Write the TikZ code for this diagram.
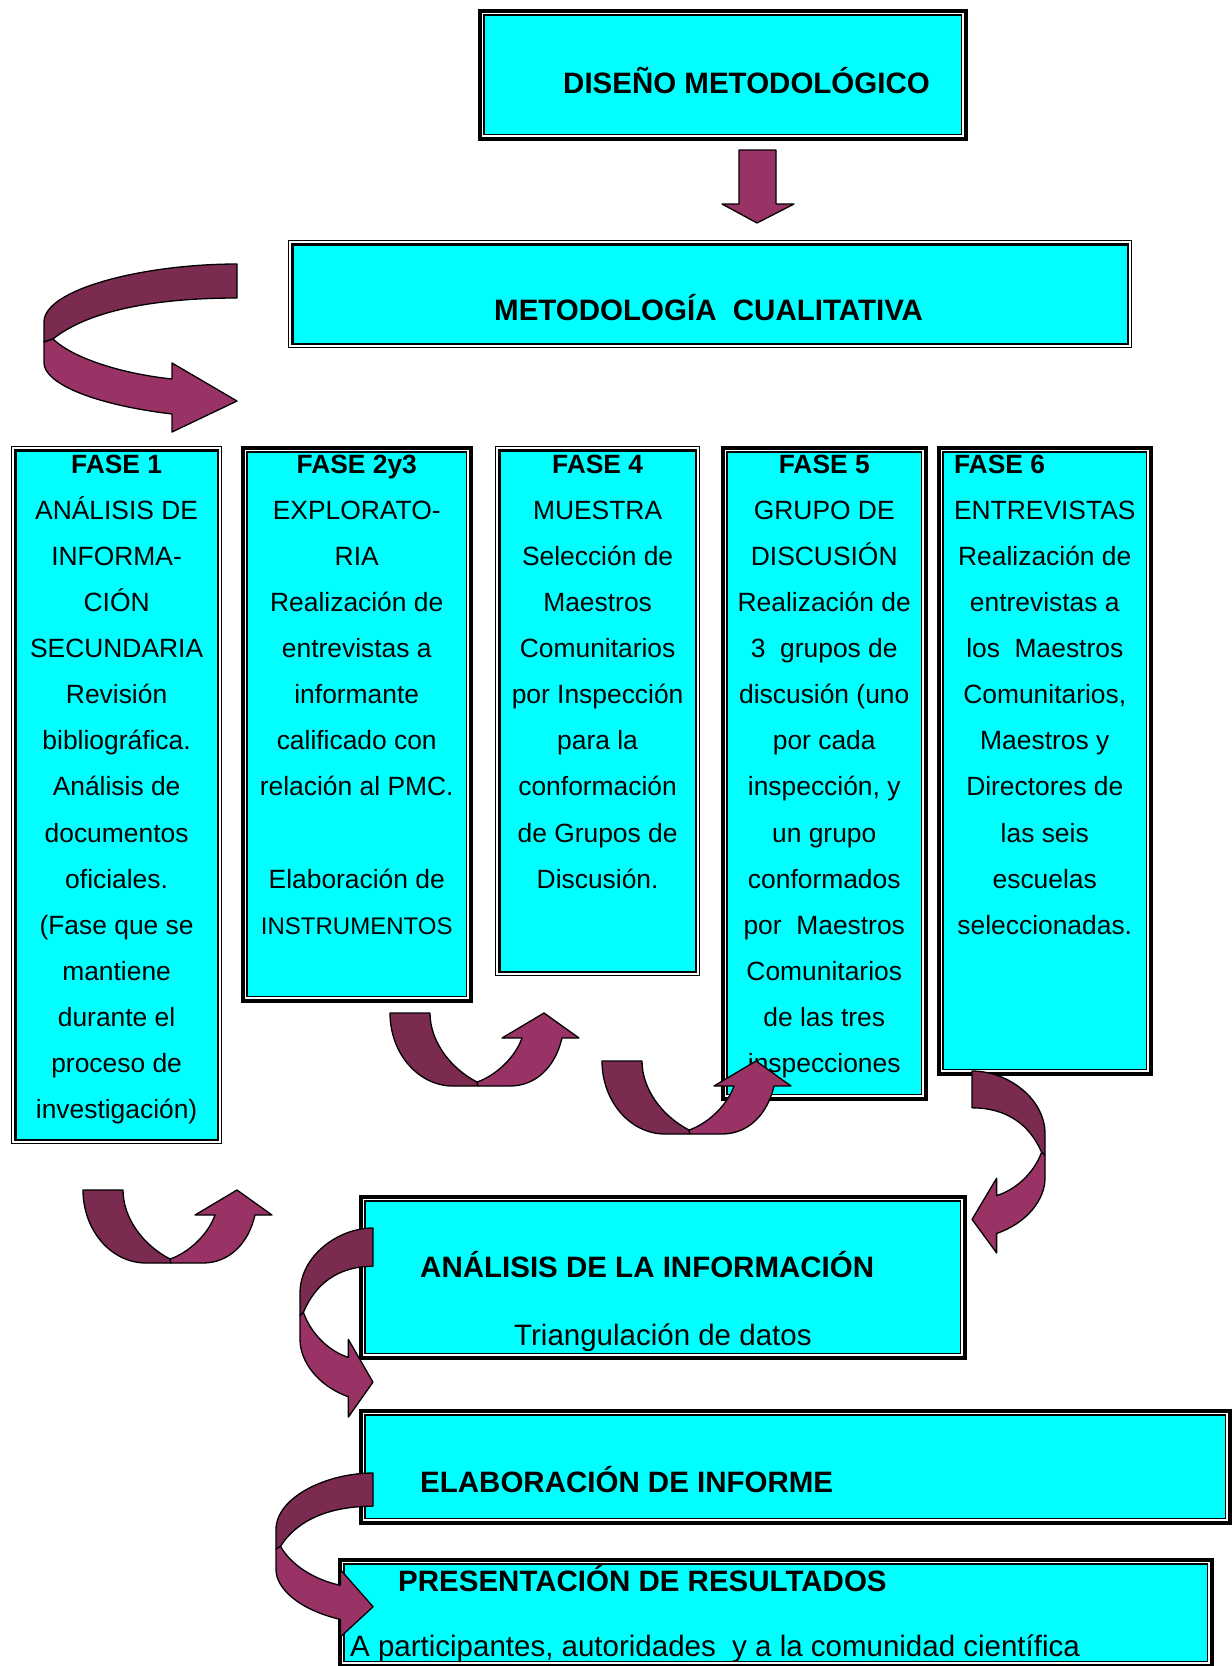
\documentclass[tikz,border=0pt]{standalone}
\usepackage{fontspec}
\setmainfont{Liberation Sans}
\definecolor{boxcyan}{RGB}{0,255,255}
\definecolor{arrowdark}{RGB}{123,42,80}
\definecolor{arrowlight}{RGB}{153,51,102}

\begin{document}
\begin{tikzpicture}[
  x=1pt,
  y=-1pt,
  % double frames: thick outside / thin inside, and the other way round
  thickthin/.style={draw=black,line width=3.5pt,fill=white,anchor=north west,inner sep=0pt,
    path picture={\filldraw[fill=boxcyan,line width=1.2pt]
      ([shift={(4.2pt,-4.2pt)}]path picture bounding box.north west) rectangle
      ([shift={(-4.2pt,4.2pt)}]path picture bounding box.south east);}},
  thinthick/.style={draw=black,line width=1.2pt,fill=white,anchor=north west,inner sep=0pt,
    path picture={\filldraw[fill=boxcyan,line width=2.6pt]
      ([shift={(3.8pt,-3.8pt)}]path picture bounding box.north west) rectangle
      ([shift={(-3.8pt,3.8pt)}]path picture bounding box.south east);}},
  headtxt/.style={anchor=base west,inner sep=0pt,font=\fontsize{29.5}{35}\selectfont\bfseries},
  subtxt/.style={anchor=base west,inner sep=0pt,font=\fontsize{29.5}{35}\selectfont},
  fasetxt/.style={anchor=north,align=center,inner sep=0pt,font=\fontsize{26.4}{46.05}\selectfont},
  arrowshape/.style={draw=black,line width=1.3pt,line join=round},
  % curved block arrow that turns back upwards (U turn)
  uarrow/.pic={
    \filldraw[arrowshape,fill=arrowdark] (0,0) .. controls (0,40) and (28,73) .. (63,73)
      -- (88,73) -- (87,69) .. controls (60,55) and (40,28) .. (40,0) -- cycle;
    \filldraw[arrowshape,fill=arrowlight] (87,69) .. controls (105,63) and (125,45) .. (132,25)
      -- (112,25) -- (154,0) -- (189,25) -- (172,25)
      .. controls (165,55) and (145,73) .. (120,73) -- (88,73) -- cycle;
  },
  % curved block arrow that turns back to the right
  rarrow/.pic={
    \filldraw[arrowshape,fill=arrowdark] (193,0) .. controls (100,0) and (0,25) .. (0,58)
      -- (0,78) -- (9,75) .. controls (40,50) and (100,34) .. (193,34) -- cycle;
    \filldraw[arrowshape,fill=arrowlight] (9,75) .. controls (30,95) and (80,110) .. (128,115)
      -- (128,99) -- (193,137) -- (128,168) -- (128,150)
      .. controls (45,140) and (0,118) .. (0,99) -- (0,78) -- cycle;
  }
]
\useasboundingbox (0,0) rectangle (1232,1666);

% =====================================================================
% Top: design and methodology
% =====================================================================
\node[thickthin,minimum width=486,minimum height=128] (dis) at (478,9) {};
\node[headtxt] (distxt) at (563,93) {DISEÑO METODOLÓGICO};

\filldraw[arrowshape,fill=arrowlight] (739,150) -- (776,150) -- (776,204) -- (794,204)
  -- (757,223) -- (722,204) -- (739,204) -- cycle;

\node[thinthick,minimum width=843,minimum height=107] (met) at (288,240) {};
\node[headtxt] (mettxt) at (494,320) {METODOLOGÍA\ \ CUALITATIVA};

% =====================================================================
% Phases
% =====================================================================
\node[thinthick,minimum width=210,minimum height=697] (f1) at (11,446) {};
\node[thickthin,minimum width=228,minimum height=553] (f23) at (241,446) {};
\node[thinthick,minimum width=204,minimum height=529] (f4) at (495,446) {};
\node[thickthin,minimum width=203,minimum height=651] (f5) at (721,446) {};
\node[thickthin,minimum width=212,minimum height=626] (f6) at (937,446) {};

\node[fasetxt] (f1txt) at ([yshift=-9pt]f1.north)
  {{\bfseries FASE 1}\\ ANÁLISIS DE\\ INFORMA-\\ CIÓN\\ SECUNDARIA\\ Revisión\\
   bibliográfica.\\ Análisis de\\ documentos\\ oficiales.\\ (Fase que se\\ mantiene\\
   durante el\\ proceso de\\ investigación)};
\node[fasetxt] (f23txt) at ([yshift=-9pt]f23.north)
  {{\bfseries FASE 2y3}\\ EXPLORATO-\\ RIA\\ Realización de\\ entrevistas a\\ informante\\
   calificado con\\ relación al PMC.\\[46pt] Elaboración de\\
   {\fontsize{24}{44.6}\selectfont INSTRUMENTOS}};
\node[fasetxt] (f4txt) at ([yshift=-9pt]f4.north)
  {{\bfseries FASE 4}\\ MUESTRA\\ Selección de\\ Maestros\\ Comunitarios\\ por Inspección\\
   para la\\ conformación\\ de Grupos de\\ Discusión.};
\node[fasetxt] (f5txt) at ([yshift=-9pt]f5.north)
  {{\bfseries FASE 5}\\ GRUPO DE\\ DISCUSIÓN\\ Realización de\\ 3\ \ grupos de\\
   discusión (uno\\ por cada\\ inspección, y\\ un grupo\\ conformados\\ por\ \ Maestros\\
   Comunitarios\\ de las tres\\ inspecciones};
\node[fasetxt] (f6txt) at ([yshift=-9pt]f6.north)
  {\rlap{\bfseries FASE 6}\phantom{ENTREVISTAS}\\ ENTREVISTAS\\ Realización de\\
   entrevistas a\\ los\ \ Maestros\\ Comunitarios,\\ Maestros y\\ Directores de\\
   las seis\\ escuelas\\ seleccionadas.};

% =====================================================================
% Bottom: analysis, report, results
% =====================================================================
\node[thickthin,minimum width=604,minimum height=161] (ana) at (359,1195) {};
\node[headtxt] (anatxt) at (420,1277) {ANÁLISIS DE LA INFORMACIÓN};
\node[subtxt] (tritxt) at (514,1345) {Triangulación de datos};

\node[thickthin,minimum width=869,minimum height=112] (ela) at (359,1409) {};
\node[headtxt] (elatxt) at (420,1492) {ELABORACIÓN DE INFORME};

\node[thickthin,minimum width=872,minimum height=106] (pre) at (338,1558) {};
\node[headtxt] (pretxt) at (398,1591) {PRESENTACIÓN DE RESULTADOS};
\node[subtxt] (partxt) at (350,1656) {A participantes, autoridades\ \ y a la comunidad científica};

% =====================================================================
% Curved block arrows (drawn last, over the boxes)
% =====================================================================
\pic at (44,264) {rarrow};
\pic at (390,1013) {uarrow};
\pic at (602,1061) {uarrow};
\pic at (83,1190) {uarrow};
\begin{scope}[shift={(1045,1071)},xscale=-0.378,yscale=1.083]
  \pic[transform shape] {rarrow};
\end{scope}
\begin{scope}[shift={(300,1228)},xscale=0.378,yscale=1.125]
  \pic[transform shape] {rarrow};
\end{scope}
\begin{scope}[shift={(276,1473)},xscale=0.503,yscale=0.976]
  \pic[transform shape] {rarrow};
\end{scope}

\end{tikzpicture}
\end{document}
